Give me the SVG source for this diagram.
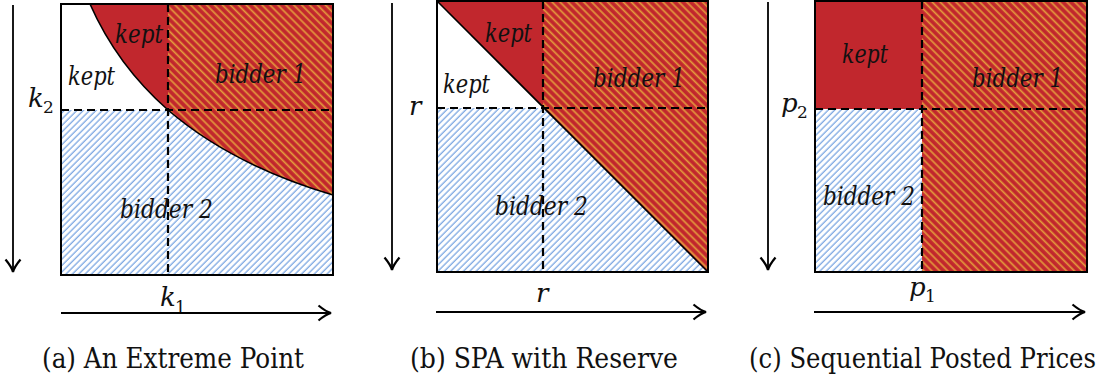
<svg xmlns="http://www.w3.org/2000/svg" width="1106" height="381" viewBox="0 0 1106 381">
<style>
.box{fill:none;stroke:#000;stroke-width:2}
.dash{fill:none;stroke:#000;stroke-width:2.2;stroke-dasharray:8,5}
.red{fill:#c1272d}
.r1{fill:url(#orng)}
.b2{fill:url(#blue)}
.ax{fill:none;stroke:#000;stroke-width:1.8;marker-end:url(#arr)}
.edge{fill:none;stroke:#000;stroke-width:1.6}
</style>
<defs>
<pattern id="blue" patternUnits="userSpaceOnUse" width="4.5" height="10" patternTransform="rotate(45)">
<rect width="4.5" height="10" fill="#fff"/>
<line x1="2" y1="0" x2="2" y2="10" stroke="#7aa6e2" stroke-width="1.3"/>
</pattern>
<pattern id="orng" patternUnits="userSpaceOnUse" width="5.6" height="10" patternTransform="rotate(-45)">
<rect width="5.6" height="10" fill="#c1272d"/>
<line x1="2.5" y1="0" x2="2.5" y2="10" stroke="#e39a3c" stroke-width="1.7"/>
</pattern>
<marker id="arr" markerUnits="userSpaceOnUse" markerWidth="20" markerHeight="20" viewBox="-12 -8 14 16" refX="0" refY="0" orient="auto">
<path d="M-10,-6 Q-4,-1 0,0 Q-4,1 -10,6" fill="none" stroke="#000" stroke-width="1.8"/>
</marker>
<clipPath id="ca"><rect x="168" y="0" width="170" height="280"/></clipPath>
</defs>

<g id="panel-a">
<rect class="b2" x="61" y="110" width="272" height="165"/>
<path class="red" d="M90,4 Q117,65.2 168,110 Q232,165 333,195 L333,4 Z"/>
<path class="r1" clip-path="url(#ca)" d="M90,4 Q117,65.2 168,110 Q232,165 333,195 L333,4 Z"/>
<path class="edge" d="M90,4 Q117,65.2 168,110 Q232,165 333,195"/>
<line class="dash" x1="61" y1="110" x2="333" y2="110"/>
<line class="dash" x1="168" y1="4" x2="168" y2="275"/>
<rect class="box" x="61" y="4" width="272" height="271"/>
<g font-family="DejaVu Serif, serif" font-style="italic" font-size="26" fill="#111">
<text x="115" y="43" textLength="48" lengthAdjust="spacingAndGlyphs">kept</text>
<text x="68" y="85" textLength="47" lengthAdjust="spacingAndGlyphs">kept</text>
<text x="215" y="83" textLength="91" lengthAdjust="spacingAndGlyphs">bidder 1</text>
<text x="120" y="218" textLength="93" lengthAdjust="spacingAndGlyphs">bidder 2</text>
<text x="28" y="107">k</text>
<text x="160" y="306">k</text>
</g>
<g font-family="DejaVu Serif, serif" font-size="17" fill="#111">
<text x="43" y="113">2</text>
<text x="175" y="313">1</text>
</g>
<text font-family="DejaVu Serif, serif" font-size="27" fill="#111" x="42" y="368" textLength="262" lengthAdjust="spacingAndGlyphs">(a) An Extreme Point</text>
</g>

<g id="panel-b">
<rect class="b2" x="437" y="108" width="271" height="164"/>
<path class="red" d="M437,1 L708,1 L708,272 Z"/>
<path class="r1" d="M543,1 L708,1 L708,272 L543,107 Z"/>
<line class="edge" x1="437" y1="1" x2="708" y2="272"/>
<line class="dash" x1="437" y1="108" x2="708" y2="108"/>
<line class="dash" x1="543" y1="1" x2="543" y2="272"/>
<rect class="box" x="437" y="1" width="271" height="271"/>
<g font-family="DejaVu Serif, serif" font-style="italic" font-size="26" fill="#111">
<text x="485" y="42" textLength="47" lengthAdjust="spacingAndGlyphs">kept</text>
<text x="443" y="93" textLength="47" lengthAdjust="spacingAndGlyphs">kept</text>
<text x="593" y="87" textLength="92" lengthAdjust="spacingAndGlyphs">bidder 1</text>
<text x="495" y="215" textLength="93" lengthAdjust="spacingAndGlyphs">bidder 2</text>
<text x="409" y="115">r</text>
<text x="536" y="302">r</text>
</g>
<text font-family="DejaVu Serif, serif" font-size="27" fill="#111" x="410" y="368" textLength="268" lengthAdjust="spacingAndGlyphs">(b) SPA with Reserve</text>
</g>

<g id="panel-c">
<rect class="b2" x="815" y="109" width="107" height="163"/>
<rect class="red" x="815" y="1" width="107" height="108"/>
<rect class="r1" x="922" y="1" width="165" height="271"/>
<line class="dash" x1="815" y1="109" x2="1087" y2="109"/>
<line class="dash" x1="922" y1="1" x2="922" y2="272"/>
<rect class="box" x="815" y="1" width="272" height="271"/>
<g font-family="DejaVu Serif, serif" font-style="italic" font-size="26" fill="#111">
<text x="842" y="63" textLength="46" lengthAdjust="spacingAndGlyphs">kept</text>
<text x="972" y="87" textLength="91" lengthAdjust="spacingAndGlyphs">bidder 1</text>
<text x="823" y="205" textLength="92" lengthAdjust="spacingAndGlyphs">bidder 2</text>
<text x="781" y="112">p</text>
<text x="909" y="296">p</text>
</g>
<g font-family="DejaVu Serif, serif" font-size="17" fill="#111">
<text x="797" y="118">2</text>
<text x="925" y="302">1</text>
</g>
<text font-family="DejaVu Serif, serif" font-size="27" fill="#111" x="749" y="368" textLength="347" lengthAdjust="spacingAndGlyphs">(c) Sequential Posted Prices</text>
</g>

<g id="connectors">
<line class="ax" x1="13" y1="5" x2="13" y2="272"/>
<line class="ax" x1="61" y1="313" x2="331" y2="313"/>
<line class="ax" x1="392" y1="3" x2="392" y2="270"/>
<line class="ax" x1="436" y1="312" x2="706" y2="312"/>
<line class="ax" x1="768" y1="2" x2="768" y2="270"/>
<line class="ax" x1="814" y1="312" x2="1085" y2="312"/>
</g>
</svg>
